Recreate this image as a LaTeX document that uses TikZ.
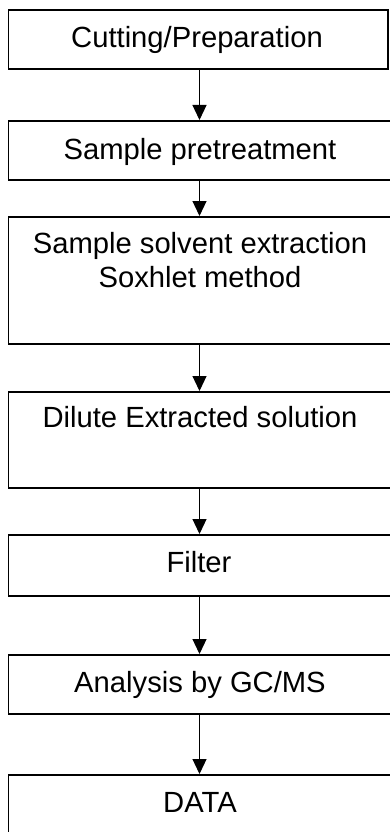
\documentclass[tikz,border=0pt]{standalone}
\usepackage{fontspec}
\setmainfont{Liberation Sans}
\usetikzlibrary{arrows.meta}
\begin{document}
\begin{tikzpicture}[x=1pt,y=1pt,
  stepbox/.style={draw=black, line width=1.8pt, rectangle, inner sep=0pt, anchor=north west},
  lbl/.style={anchor=base, inner sep=0pt, font=\fontsize{29.2}{34}\selectfont},
  arr/.style={draw=black, line width=1.2pt, -{Triangle[length=15pt,width=14pt]}}]
\useasboundingbox (0,0) rectangle (390,-832);
\clip (0,0) rectangle (390,-832);
\fill[white] (0,0) rectangle (390,-832);
\coordinate (ax) at (199.5,0);
\node[stepbox, minimum width=379.5pt, minimum height=59pt] (b1) at (7.5,-9) {};
\node[stepbox, minimum width=390pt, minimum height=59pt] (b2) at (7.5,-120) {};
\node[stepbox, minimum width=390pt, minimum height=127pt] (b3) at (7.5,-216) {};
\node[stepbox, minimum width=390pt, minimum height=96pt] (b4) at (7.5,-391) {};
\node[stepbox, minimum width=390pt, minimum height=61pt] (b5) at (7.5,-534) {};
\node[stepbox, minimum width=390pt, minimum height=59pt] (b6) at (7.5,-654) {};
\node[stepbox, minimum width=390pt, minimum height=80pt] (b7) at (7.5,-774) {};
\node[lbl] (t1) at (197,-48) {Cutting/Preparation};
\node[lbl] (t2) at (200,-159) {Sample pretreatment};
\node[lbl] (t3a) at (200,-253) {Sample solvent extraction};
\node[lbl] (t3b) at (200,-287) {Soxhlet method};
\node[lbl] (t4) at (200,-427) {Dilute Extracted solution};
\node[lbl] (t5) at (199,-572) {Filter};
\node[lbl] (t6) at (200,-692) {Analysis by GC/MS};
\node[lbl] (t7) at (200,-812) {DATA};
\draw[arr] (b1.south -| ax) -- (b2.north -| ax);
\draw[arr] (b2.south -| ax) -- (b3.north -| ax);
\draw[arr] (b3.south -| ax) -- (b4.north -| ax);
\draw[arr] (b4.south -| ax) -- (b5.north -| ax);
\draw[arr] (b5.south -| ax) -- (b6.north -| ax);
\draw[arr] (b6.south -| ax) -- (b7.north -| ax);
\end{tikzpicture}
\end{document}
